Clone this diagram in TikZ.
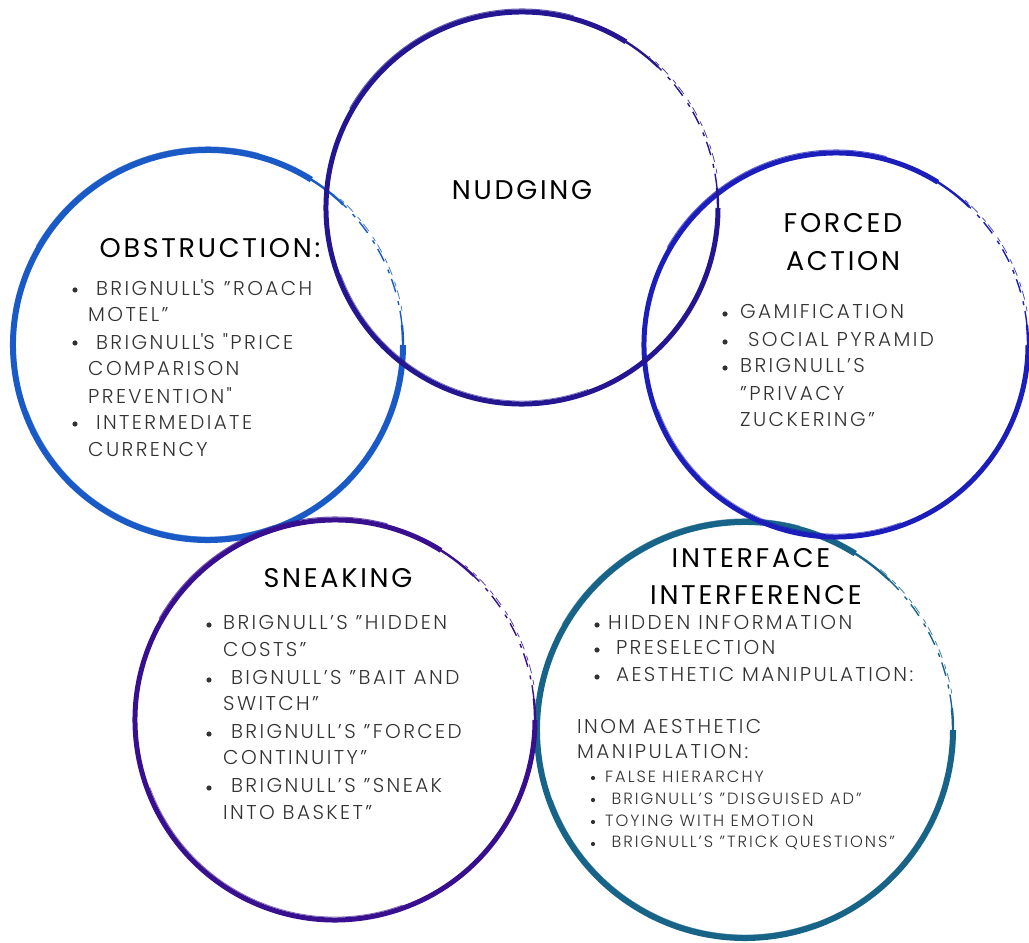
\documentclass[tikz,border=0pt]{standalone}
\usepackage{fontspec}
\setmainfont{Poppins}[LetterSpace=10]
\newfontfamily\listfont{Poppins Light}[LetterSpace=12]
\definecolor{ObsBlue}{HTML}{1A5AC6}
\definecolor{NudgeInk}{HTML}{241690}
\definecolor{ForceBlue}{HTML}{1B1EBA}
\definecolor{SneakPurple}{HTML}{38108F}
\definecolor{InterTeal}{HTML}{186488}
\definecolor{ListGray}{HTML}{333333}

\begin{document}
\begin{tikzpicture}[x=1pt,y=1pt,
    title/.style={inner sep=0,font=\fontsize{27}{30}\selectfont},
    entry/.style={anchor=west,inner sep=0,text=ListGray,
      font=\listfont\fontsize{20}{24}\selectfont},
    subentry/.style={entry,font=\listfont\fontsize{16.3}{20}\selectfont}]
        \useasboundingbox (0,0) rectangle (1029,943);

        % brush rings: solid body, thinning end, worn stretch up right, loose bristles
        \foreach \cx/\cy/\rad/\col/\w in {
          208/598/195/ObsBlue/6,745/213/208/InterTeal/6,
          836/598/192/ForceBlue/5,335/223/200/SneakPurple/5,
          522/735/196/NudgeInk/5}
        {
          \draw[\col,line width=\w pt] (\cx,\cy) ++(58:\rad)
            arc[start angle=58,end angle=360,radius=\rad];
          \draw[\col,line width=2.4pt] (\cx,\cy) ++(46:\rad)
            arc[start angle=46,end angle=59,radius=\rad];
          \draw[\col,line width=2.4pt] (\cx,\cy) ++(-1:\rad)
            arc[start angle=-1,end angle=6,radius=\rad];
          \draw[\col,line width=1.4pt,dash pattern=on 14pt off 6pt on 4pt off 9pt]
            (\cx,\cy) ++(6:\rad) arc[start angle=6,end angle=46,radius=\rad];
          \draw[\col,line width=.8pt,opacity=.8,dash pattern=on 5pt off 7pt on 9pt off 4pt]
            (\cx,\cy) ++(10:{\rad+2}) arc[start angle=10,end angle=50,radius=\rad+2];
          \draw[\col,line width=1pt,opacity=.7] (\cx,\cy) ++(75:{\rad+3})
            arc[start angle=75,end angle=150,radius=\rad+3];
          \draw[\col,line width=.8pt,opacity=.6] (\cx,\cy) ++(200:{\rad-3})
            arc[start angle=200,end angle=290,radius=\rad-3];
        }

        \node[title] (nudging) at (522,943-190) {NUDGING};
        \node[title] (obstruction) at (210,943-248) {OBSTRUCTION:};
        \node[title] (forced) at (843,943-223) {FORCED};
        \node[title] (action) at (843,943-261) {ACTION};
        \node[title] (sneaking) at (338,943-578) {SNEAKING};
        \node[title] (interface) at (751,943-558) {INTERFACE};
        \node[title] (interference) at (756,943-595) {INTERFERENCE};

        % obstruction list
        \foreach \y/\txt [count=\i] in {
          288/{\ BRIGNULL\textquotesingle S\hspace{9pt}”ROACH},315/{MOTEL”},
          342/{\ BRIGNULL\textquotesingle S "PRICE},369/{COMPARISON},
          396/{PREVENTION"},423/{\ INTERMEDIATE},450/{CURRENCY}}
          \node[entry] (obs\i) at (88,943-\y) {\txt};
        \foreach \y in {290,343,424}
          \fill[ListGray] (75,943-\y) circle (2.6);

        % forced action list
        \foreach \y/\txt [count=\i] in {
          312/{GAMIFICATION},340/{\ SOCIAL PYRAMID},366/{BRIGNULL’S},
          393/{”PRIVACY},420/{ZUCKERING”}}
          \node[entry] (frc\i) at (740,943-\y) {\txt};
        \foreach \y in {314,342,368}
          \fill[ListGray] (725,943-\y) circle (2.6);

        % sneaking list
        \foreach \y/\txt [count=\i] in {
          623/{BRIGNULL’S ”HIDDEN},650/{COSTS”},
          678/{\ BIGNULL’S ”BAIT AND},704/{SWITCH”},
          732/{\ BRIGNULL’S ”FORCED},758/{CONTINUITY”},
          786/{\ BRIGNULL’S ”SNEAK},813/{INTO BASKET”}}
          \node[entry] (snk\i) at (223,943-\y) {\txt};
        \foreach \y in {625,680,734,788}
          \fill[ListGray] (209,943-\y) circle (2.6);

        % interface interference lists
        \foreach \y/\txt [count=\i] in {
          623/{HIDDEN INFORMATION},648/{\ PRESELECTION},
          675/{\ AESTHETIC MANIPULATION:}}
          \node[entry] (ifc\i) at (608,943-\y) {\txt};
        \foreach \y in {625,650,677}
          \fill[ListGray] (597,943-\y) circle (2.6);
        \node[entry] (inom) at (577,943-727) {INOM AESTHETIC};
        \node[entry] (manip) at (577,943-752) {MANIPULATION:};
        \foreach \y/\txt [count=\i] in {
          777/{FALSE HIERARCHY},799/{\ BRIGNULL’S ”DISGUISED AD”},
          821/{TOYING WITH EMOTION},843/{\ BRIGNULL’S ”TRICK QUESTIONS”}}
          \node[subentry] (sub\i) at (605,943-\y) {\txt};
        \foreach \y in {778,800,822,844}
          \fill[ListGray] (593,943-\y) circle (2.1);
      \end{tikzpicture}
\end{document}
